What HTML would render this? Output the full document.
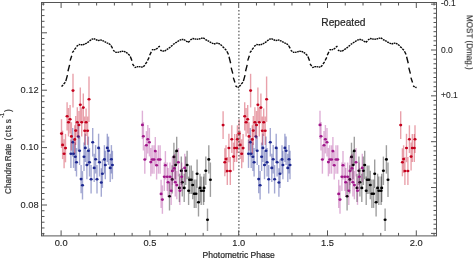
<!DOCTYPE html>
<html><head><meta charset="utf-8"><style>html,body{margin:0;padding:0;background:#fff;}svg{display:block;} text{will-change:transform;}</style></head>
<body><svg width="473" height="258" viewBox="0 0 473 258">
<rect width="473" height="258" fill="#fff"/>
<path d="M61.50,86.60 L63.15,85.13 M63.65,84.15 L65.30,82.31 M65.80,81.08 L67.45,75.15 M67.95,71.20 L69.60,64.85 M70.10,60.62 L71.75,55.83 M72.25,52.63 L73.90,50.82 M74.40,49.62 L76.05,47.64 M76.55,46.33 L78.20,45.23 M78.70,44.50 L80.35,44.61 M80.85,44.68 L82.50,44.72 M83.00,44.75 L84.65,44.17 M85.15,43.79 L86.80,43.07 M87.30,42.60 L88.95,41.60 M89.45,40.93 L91.10,39.93 M91.60,39.26 L93.25,38.82 M93.75,38.53 L95.40,39.28 M95.90,39.78 L97.55,40.28 M98.05,40.61 L99.70,40.20 M100.20,39.93 L101.85,40.28 M102.35,40.52 L104.00,41.22 M104.50,41.68 L106.15,42.40 M106.65,42.88 L108.30,43.37 M108.80,43.70 L110.45,44.78 M110.95,45.49 L112.60,48.37 M113.10,50.29 L114.75,51.50 M115.25,52.30 L116.90,52.37 M117.40,52.42 L119.05,52.07 M119.55,51.84 L121.20,51.50 M121.70,51.28 L123.35,51.37 M123.85,51.43 L125.50,52.02 M126.00,52.41 L127.65,53.30 M128.15,53.89 L129.80,55.46 M130.30,56.50 L131.95,60.87 M132.45,63.79 L134.10,66.14 M134.60,67.71 L136.25,67.13 M136.75,66.74 L138.40,66.64 M138.90,66.57 L140.55,66.93 M141.05,67.17 L142.70,66.97 M143.20,66.83 L144.85,65.16 M145.35,64.04 L147.00,61.93 M147.50,60.52 L149.15,57.36 M149.65,55.26 L151.30,51.89 M151.80,49.65 L153.45,49.77 M153.95,49.86 L155.60,49.44 M156.10,49.16 L157.75,47.97 M158.25,47.17 L159.90,46.08 M160.20,50.10 L161.85,50.73 M162.35,51.14 L164.00,51.06 M164.50,51.01 L166.15,50.12 M166.65,49.53 L168.30,48.64 M168.80,48.04 L170.45,47.06 M170.95,46.41 L172.60,45.24 M173.10,44.46 L174.75,43.51 M175.25,42.87 L176.90,42.08 M177.40,41.55 L179.05,40.73 M179.55,40.18 L181.20,39.77 M181.70,39.50 L183.35,39.52 M183.85,39.54 L185.50,40.51 M186.00,41.15 L187.65,41.89 M188.15,42.39 L189.80,40.90 M190.30,39.90 L191.95,39.06 M192.45,38.50 L194.10,38.77 M194.60,38.95 L196.25,39.10 M196.75,39.20 L198.40,39.10 M198.90,39.03 L200.55,38.60 M201.05,38.31 L202.70,38.09 M203.20,37.95 L204.85,38.90 M205.35,39.53 L207.00,40.24 M207.50,40.72 L209.15,41.48 M209.65,41.99 L211.30,42.67 M211.80,43.12 L213.45,43.64 M213.95,43.98 L215.60,43.46 M216.10,43.11 L217.75,43.26 M218.25,43.36 L219.90,44.01 M220.40,44.45 L222.05,45.75 M222.55,46.61 L224.20,47.93 M224.70,48.80 L226.35,50.25 M226.85,51.22 L228.50,54.56 M229.00,56.78 L230.65,63.25 M231.15,67.56 L232.80,73.59 M233.30,77.60 L234.95,82.54 M235.45,85.84 L237.10,86.77 M237.60,87.39 L239.00,87.52 M239.10,86.60 L240.75,85.13 M241.25,84.15 L242.90,82.31 M243.40,81.08 L245.05,75.15 M245.55,71.20 L247.20,64.85 M247.70,60.62 L249.35,55.83 M249.85,52.63 L251.50,50.82 M252.00,49.62 L253.65,47.64 M254.15,46.33 L255.80,45.23 M256.30,44.50 L257.95,44.61 M258.45,44.68 L260.10,44.72 M260.60,44.75 L262.25,44.17 M262.75,43.79 L264.40,43.07 M264.90,42.60 L266.55,41.60 M267.05,40.93 L268.70,39.93 M269.20,39.26 L270.85,38.82 M271.35,38.53 L273.00,39.28 M273.50,39.78 L275.15,40.28 M275.65,40.61 L277.30,40.20 M277.80,39.93 L279.45,40.28 M279.95,40.52 L281.60,41.22 M282.10,41.68 L283.75,42.40 M284.25,42.88 L285.90,43.37 M286.40,43.70 L288.05,44.78 M288.55,45.49 L290.20,48.37 M290.70,50.29 L292.35,51.50 M292.85,52.30 L294.50,52.37 M295.00,52.42 L296.65,52.07 M297.15,51.84 L298.80,51.50 M299.30,51.28 L300.95,51.37 M301.45,51.43 L303.10,52.02 M303.60,52.41 L305.25,53.30 M305.75,53.89 L307.40,55.46 M307.90,56.50 L309.55,60.87 M310.05,63.79 L311.70,66.14 M312.20,67.71 L313.85,67.13 M314.35,66.74 L316.00,66.64 M316.50,66.57 L318.15,66.93 M318.65,67.17 L320.30,66.97 M320.80,66.83 L322.45,65.16 M322.95,64.04 L324.60,61.93 M325.10,60.52 L326.75,57.36 M327.25,55.26 L328.90,51.89 M329.40,49.65 L331.05,49.77 M331.55,49.86 L333.20,49.44 M333.70,49.16 L335.35,47.97 M335.85,47.17 L337.50,46.08 M337.80,50.10 L339.45,50.73 M339.95,51.14 L341.60,51.06 M342.10,51.01 L343.75,50.12 M344.25,49.53 L345.90,48.64 M346.40,48.04 L348.05,47.06 M348.55,46.41 L350.20,45.24 M350.70,44.46 L352.35,43.51 M352.85,42.87 L354.50,42.08 M355.00,41.55 L356.65,40.73 M357.15,40.18 L358.80,39.77 M359.30,39.50 L360.95,39.52 M361.45,39.54 L363.10,40.51 M363.60,41.15 L365.25,41.89 M365.75,42.39 L367.40,40.90 M367.90,39.90 L369.55,39.06 M370.05,38.50 L371.70,38.77 M372.20,38.95 L373.85,39.10 M374.35,39.20 L376.00,39.10 M376.50,39.03 L378.15,38.60 M378.65,38.31 L380.30,38.09 M380.80,37.95 L382.45,38.90 M382.95,39.53 L384.60,40.24 M385.10,40.72 L386.75,41.48 M387.25,41.99 L388.90,42.67 M389.40,43.12 L391.05,43.64 M391.55,43.98 L393.20,43.46 M393.70,43.11 L395.35,43.26 M395.85,43.36 L397.50,44.01 M398.00,44.45 L399.65,45.75 M400.15,46.61 L401.80,47.93 M402.30,48.80 L403.95,50.25 M404.45,51.22 L406.10,54.56 M406.60,56.78 L408.25,63.25 M408.75,67.56 L410.40,73.59 M410.90,77.60 L412.55,82.54 M413.05,85.84 L414.70,86.77 M415.20,87.39 L416.60,87.52" fill="none" stroke="#0a0a0a" stroke-width="1.4" stroke-linecap="butt"/>
<g stroke="rgba(28,39,144,0.4)" stroke-width="1.4" fill="none"><path d="M70.90,139.50V167.90"/><path d="M72.70,128.10V156.50"/><path d="M73.60,139.50V167.90"/><path d="M75.30,142.50V170.90"/><path d="M76.50,148.10V176.50"/><path d="M78.30,122.30V150.70"/><path d="M79.60,136.60V165.00"/><path d="M81.10,164.90V193.30"/><path d="M82.50,171.10V199.50"/><path d="M84.00,142.60V171.00"/><path d="M85.30,133.70V162.10"/><path d="M86.90,150.80V179.20"/><path d="M88.40,136.60V165.00"/><path d="M89.50,148.10V176.50"/><path d="M91.10,165.10V193.50"/><path d="M92.70,128.10V156.50"/><path d="M94.20,153.70V182.10"/><path d="M95.60,145.10V173.50"/><path d="M97.00,165.10V193.50"/><path d="M98.60,133.70V162.10"/><path d="M99.50,148.10V176.50"/><path d="M101.30,168.30V196.70"/><path d="M102.40,159.50V187.90"/><path d="M104.40,145.20V173.60"/><path d="M105.30,150.80V179.20"/><path d="M107.30,133.70V162.10"/><path d="M108.50,136.60V165.00"/><path d="M110.20,153.70V182.10"/><path d="M111.40,145.10V173.50"/><path d="M112.40,150.80V179.20"/><path d="M248.50,139.50V167.90"/><path d="M250.30,128.10V156.50"/><path d="M251.20,139.50V167.90"/><path d="M252.90,142.50V170.90"/><path d="M254.10,148.10V176.50"/><path d="M255.90,122.30V150.70"/><path d="M257.20,136.60V165.00"/><path d="M258.70,164.90V193.30"/><path d="M260.10,171.10V199.50"/><path d="M261.60,142.60V171.00"/><path d="M262.90,133.70V162.10"/><path d="M264.50,150.80V179.20"/><path d="M266.00,136.60V165.00"/><path d="M267.10,148.10V176.50"/><path d="M268.70,165.10V193.50"/><path d="M270.30,128.10V156.50"/><path d="M271.80,153.70V182.10"/><path d="M273.20,145.10V173.50"/><path d="M274.60,165.10V193.50"/><path d="M276.20,133.70V162.10"/><path d="M277.10,148.10V176.50"/><path d="M278.90,168.30V196.70"/><path d="M280.00,159.50V187.90"/><path d="M282.00,145.20V173.60"/><path d="M282.90,150.80V179.20"/><path d="M284.90,133.70V162.10"/><path d="M286.10,136.60V165.00"/><path d="M287.80,153.70V182.10"/><path d="M289.00,145.10V173.50"/><path d="M290.00,150.80V179.20"/></g>
<g fill="#1c2790"><ellipse cx="70.90" cy="153.70" rx="1.55" ry="1.3"/><ellipse cx="72.70" cy="142.30" rx="1.55" ry="1.3"/><ellipse cx="73.60" cy="153.70" rx="1.55" ry="1.3"/><ellipse cx="75.30" cy="156.70" rx="1.55" ry="1.3"/><ellipse cx="76.50" cy="162.30" rx="1.55" ry="1.3"/><ellipse cx="78.30" cy="136.50" rx="1.55" ry="1.3"/><ellipse cx="79.60" cy="150.80" rx="1.55" ry="1.3"/><ellipse cx="81.10" cy="179.10" rx="1.55" ry="1.3"/><ellipse cx="82.50" cy="185.30" rx="1.55" ry="1.3"/><ellipse cx="84.00" cy="156.80" rx="1.55" ry="1.3"/><ellipse cx="85.30" cy="147.90" rx="1.55" ry="1.3"/><ellipse cx="86.90" cy="165.00" rx="1.55" ry="1.3"/><ellipse cx="88.40" cy="150.80" rx="1.55" ry="1.3"/><ellipse cx="89.50" cy="162.30" rx="1.55" ry="1.3"/><ellipse cx="91.10" cy="179.30" rx="1.55" ry="1.3"/><ellipse cx="92.70" cy="142.30" rx="1.55" ry="1.3"/><ellipse cx="94.20" cy="167.90" rx="1.55" ry="1.3"/><ellipse cx="95.60" cy="159.30" rx="1.55" ry="1.3"/><ellipse cx="97.00" cy="179.30" rx="1.55" ry="1.3"/><ellipse cx="98.60" cy="147.90" rx="1.55" ry="1.3"/><ellipse cx="99.50" cy="162.30" rx="1.55" ry="1.3"/><ellipse cx="101.30" cy="182.50" rx="1.55" ry="1.3"/><ellipse cx="102.40" cy="173.70" rx="1.55" ry="1.3"/><ellipse cx="104.40" cy="159.40" rx="1.55" ry="1.3"/><ellipse cx="105.30" cy="165.00" rx="1.55" ry="1.3"/><ellipse cx="107.30" cy="147.90" rx="1.55" ry="1.3"/><ellipse cx="108.50" cy="150.80" rx="1.55" ry="1.3"/><ellipse cx="110.20" cy="167.90" rx="1.55" ry="1.3"/><ellipse cx="111.40" cy="159.30" rx="1.55" ry="1.3"/><ellipse cx="112.40" cy="165.00" rx="1.55" ry="1.3"/><ellipse cx="248.50" cy="153.70" rx="1.55" ry="1.3"/><ellipse cx="250.30" cy="142.30" rx="1.55" ry="1.3"/><ellipse cx="251.20" cy="153.70" rx="1.55" ry="1.3"/><ellipse cx="252.90" cy="156.70" rx="1.55" ry="1.3"/><ellipse cx="254.10" cy="162.30" rx="1.55" ry="1.3"/><ellipse cx="255.90" cy="136.50" rx="1.55" ry="1.3"/><ellipse cx="257.20" cy="150.80" rx="1.55" ry="1.3"/><ellipse cx="258.70" cy="179.10" rx="1.55" ry="1.3"/><ellipse cx="260.10" cy="185.30" rx="1.55" ry="1.3"/><ellipse cx="261.60" cy="156.80" rx="1.55" ry="1.3"/><ellipse cx="262.90" cy="147.90" rx="1.55" ry="1.3"/><ellipse cx="264.50" cy="165.00" rx="1.55" ry="1.3"/><ellipse cx="266.00" cy="150.80" rx="1.55" ry="1.3"/><ellipse cx="267.10" cy="162.30" rx="1.55" ry="1.3"/><ellipse cx="268.70" cy="179.30" rx="1.55" ry="1.3"/><ellipse cx="270.30" cy="142.30" rx="1.55" ry="1.3"/><ellipse cx="271.80" cy="167.90" rx="1.55" ry="1.3"/><ellipse cx="273.20" cy="159.30" rx="1.55" ry="1.3"/><ellipse cx="274.60" cy="179.30" rx="1.55" ry="1.3"/><ellipse cx="276.20" cy="147.90" rx="1.55" ry="1.3"/><ellipse cx="277.10" cy="162.30" rx="1.55" ry="1.3"/><ellipse cx="278.90" cy="182.50" rx="1.55" ry="1.3"/><ellipse cx="280.00" cy="173.70" rx="1.55" ry="1.3"/><ellipse cx="282.00" cy="159.40" rx="1.55" ry="1.3"/><ellipse cx="282.90" cy="165.00" rx="1.55" ry="1.3"/><ellipse cx="284.90" cy="147.90" rx="1.55" ry="1.3"/><ellipse cx="286.10" cy="150.80" rx="1.55" ry="1.3"/><ellipse cx="287.80" cy="167.90" rx="1.55" ry="1.3"/><ellipse cx="289.00" cy="159.30" rx="1.55" ry="1.3"/><ellipse cx="290.00" cy="165.00" rx="1.55" ry="1.3"/></g>
<g stroke="rgba(0,0,0,0.38)" stroke-width="1.4" fill="none"><path d="M169.50,182.10V210.50"/><path d="M172.20,165.20V193.60"/><path d="M173.90,142.70V171.10"/><path d="M175.50,150.80V179.20"/><path d="M176.70,136.70V165.10"/><path d="M179.40,173.70V202.10"/><path d="M181.30,156.60V185.00"/><path d="M182.30,168.10V196.50"/><path d="M184.20,173.70V202.10"/><path d="M185.70,156.60V185.00"/><path d="M187.10,150.80V179.20"/><path d="M188.60,176.60V205.00"/><path d="M189.60,165.50V193.90"/><path d="M191.30,165.50V193.90"/><path d="M192.70,170.80V199.20"/><path d="M194.30,179.50V207.90"/><path d="M196.00,179.50V207.90"/><path d="M197.10,159.50V187.90"/><path d="M198.50,188.10V216.50"/><path d="M200.00,173.70V202.10"/><path d="M201.20,176.60V205.00"/><path d="M203.50,176.60V205.00"/><path d="M204.10,173.70V202.10"/><path d="M205.80,156.60V185.00"/><path d="M207.50,208.60V231.00"/><path d="M208.80,145.20V173.60"/><path d="M210.40,162.50V196.90"/><path d="M347.10,182.10V210.50"/><path d="M349.80,165.20V193.60"/><path d="M351.50,142.70V171.10"/><path d="M353.10,150.80V179.20"/><path d="M354.30,136.70V165.10"/><path d="M357.00,173.70V202.10"/><path d="M358.90,156.60V185.00"/><path d="M359.90,168.10V196.50"/><path d="M361.80,173.70V202.10"/><path d="M363.30,156.60V185.00"/><path d="M364.70,150.80V179.20"/><path d="M366.20,176.60V205.00"/><path d="M367.20,165.50V193.90"/><path d="M368.90,165.50V193.90"/><path d="M370.30,170.80V199.20"/><path d="M371.90,179.50V207.90"/><path d="M373.60,179.50V207.90"/><path d="M374.70,159.50V187.90"/><path d="M376.10,188.10V216.50"/><path d="M377.60,173.70V202.10"/><path d="M378.80,176.60V205.00"/><path d="M381.10,176.60V205.00"/><path d="M381.70,173.70V202.10"/><path d="M383.40,156.60V185.00"/><path d="M385.10,208.60V231.00"/><path d="M386.40,145.20V173.60"/><path d="M388.00,162.50V196.90"/></g>
<g fill="#000"><ellipse cx="169.50" cy="196.30" rx="1.55" ry="1.3"/><ellipse cx="172.20" cy="179.40" rx="1.55" ry="1.3"/><ellipse cx="173.90" cy="156.90" rx="1.55" ry="1.3"/><ellipse cx="175.50" cy="165.00" rx="1.55" ry="1.3"/><ellipse cx="176.70" cy="150.90" rx="1.55" ry="1.3"/><ellipse cx="179.40" cy="187.90" rx="1.55" ry="1.3"/><ellipse cx="181.30" cy="170.80" rx="1.55" ry="1.3"/><ellipse cx="182.30" cy="182.30" rx="1.55" ry="1.3"/><ellipse cx="184.20" cy="187.90" rx="1.55" ry="1.3"/><ellipse cx="185.70" cy="170.80" rx="1.55" ry="1.3"/><ellipse cx="187.10" cy="165.00" rx="1.55" ry="1.3"/><ellipse cx="188.60" cy="190.80" rx="1.55" ry="1.3"/><ellipse cx="189.60" cy="179.70" rx="1.55" ry="1.3"/><ellipse cx="191.30" cy="179.70" rx="1.55" ry="1.3"/><ellipse cx="192.70" cy="185.00" rx="1.55" ry="1.3"/><ellipse cx="194.30" cy="193.70" rx="1.55" ry="1.3"/><ellipse cx="196.00" cy="193.70" rx="1.55" ry="1.3"/><ellipse cx="197.10" cy="173.70" rx="1.55" ry="1.3"/><ellipse cx="198.50" cy="202.30" rx="1.55" ry="1.3"/><ellipse cx="200.00" cy="187.90" rx="1.55" ry="1.3"/><ellipse cx="201.20" cy="190.80" rx="1.55" ry="1.3"/><ellipse cx="203.50" cy="190.80" rx="1.55" ry="1.3"/><ellipse cx="204.10" cy="187.90" rx="1.55" ry="1.3"/><ellipse cx="205.80" cy="170.80" rx="1.55" ry="1.3"/><ellipse cx="207.50" cy="219.80" rx="1.55" ry="1.3"/><ellipse cx="208.80" cy="159.40" rx="1.55" ry="1.3"/><ellipse cx="210.40" cy="179.70" rx="1.55" ry="1.3"/><ellipse cx="347.10" cy="196.30" rx="1.55" ry="1.3"/><ellipse cx="349.80" cy="179.40" rx="1.55" ry="1.3"/><ellipse cx="351.50" cy="156.90" rx="1.55" ry="1.3"/><ellipse cx="353.10" cy="165.00" rx="1.55" ry="1.3"/><ellipse cx="354.30" cy="150.90" rx="1.55" ry="1.3"/><ellipse cx="357.00" cy="187.90" rx="1.55" ry="1.3"/><ellipse cx="358.90" cy="170.80" rx="1.55" ry="1.3"/><ellipse cx="359.90" cy="182.30" rx="1.55" ry="1.3"/><ellipse cx="361.80" cy="187.90" rx="1.55" ry="1.3"/><ellipse cx="363.30" cy="170.80" rx="1.55" ry="1.3"/><ellipse cx="364.70" cy="165.00" rx="1.55" ry="1.3"/><ellipse cx="366.20" cy="190.80" rx="1.55" ry="1.3"/><ellipse cx="367.20" cy="179.70" rx="1.55" ry="1.3"/><ellipse cx="368.90" cy="179.70" rx="1.55" ry="1.3"/><ellipse cx="370.30" cy="185.00" rx="1.55" ry="1.3"/><ellipse cx="371.90" cy="193.70" rx="1.55" ry="1.3"/><ellipse cx="373.60" cy="193.70" rx="1.55" ry="1.3"/><ellipse cx="374.70" cy="173.70" rx="1.55" ry="1.3"/><ellipse cx="376.10" cy="202.30" rx="1.55" ry="1.3"/><ellipse cx="377.60" cy="187.90" rx="1.55" ry="1.3"/><ellipse cx="378.80" cy="190.80" rx="1.55" ry="1.3"/><ellipse cx="381.10" cy="190.80" rx="1.55" ry="1.3"/><ellipse cx="381.70" cy="187.90" rx="1.55" ry="1.3"/><ellipse cx="383.40" cy="170.80" rx="1.55" ry="1.3"/><ellipse cx="385.10" cy="219.80" rx="1.55" ry="1.3"/><ellipse cx="386.40" cy="159.40" rx="1.55" ry="1.3"/><ellipse cx="388.00" cy="179.70" rx="1.55" ry="1.3"/></g>
<g stroke="rgba(160,22,138,0.34)" stroke-width="1.4" fill="none"><path d="M142.40,110.70V139.10"/><path d="M143.40,122.10V150.50"/><path d="M144.80,145.30V173.70"/><path d="M146.40,131.10V159.50"/><path d="M147.80,125.00V153.40"/><path d="M149.40,128.00V156.40"/><path d="M150.80,147.90V176.30"/><path d="M152.20,145.30V173.70"/><path d="M154.00,145.30V173.70"/><path d="M155.30,136.90V165.30"/><path d="M156.60,151.10V179.50"/><path d="M158.40,145.30V173.70"/><path d="M160.10,145.30V173.70"/><path d="M161.10,179.70V208.10"/><path d="M162.40,185.40V213.80"/><path d="M164.30,162.50V190.90"/><path d="M165.40,151.10V179.50"/><path d="M167.20,162.50V190.90"/><path d="M168.10,168.00V196.40"/><path d="M170.00,162.50V190.90"/><path d="M171.20,176.50V204.90"/><path d="M172.40,156.70V185.10"/><path d="M174.40,154.00V182.40"/><path d="M175.30,168.00V196.40"/><path d="M176.80,170.90V199.30"/><path d="M178.40,148.00V176.40"/><path d="M179.90,176.50V204.90"/><path d="M181.70,162.50V190.90"/><path d="M184.70,153.70V182.10"/><path d="M320.00,110.70V139.10"/><path d="M321.00,122.10V150.50"/><path d="M322.40,145.30V173.70"/><path d="M324.00,131.10V159.50"/><path d="M325.40,125.00V153.40"/><path d="M327.00,128.00V156.40"/><path d="M328.40,147.90V176.30"/><path d="M329.80,145.30V173.70"/><path d="M331.60,145.30V173.70"/><path d="M332.90,136.90V165.30"/><path d="M334.20,151.10V179.50"/><path d="M336.00,145.30V173.70"/><path d="M337.70,145.30V173.70"/><path d="M338.70,179.70V208.10"/><path d="M340.00,185.40V213.80"/><path d="M341.90,162.50V190.90"/><path d="M343.00,151.10V179.50"/><path d="M344.80,162.50V190.90"/><path d="M345.70,168.00V196.40"/><path d="M347.60,162.50V190.90"/><path d="M348.80,176.50V204.90"/><path d="M350.00,156.70V185.10"/><path d="M352.00,154.00V182.40"/><path d="M352.90,168.00V196.40"/><path d="M354.40,170.90V199.30"/><path d="M356.00,148.00V176.40"/><path d="M357.50,176.50V204.90"/><path d="M359.30,162.50V190.90"/><path d="M362.30,153.70V182.10"/></g>
<g fill="#a0168a"><ellipse cx="142.40" cy="124.90" rx="1.55" ry="1.3"/><ellipse cx="143.40" cy="136.30" rx="1.55" ry="1.3"/><ellipse cx="144.80" cy="159.50" rx="1.55" ry="1.3"/><ellipse cx="146.40" cy="145.30" rx="1.55" ry="1.3"/><ellipse cx="147.80" cy="139.20" rx="1.55" ry="1.3"/><ellipse cx="149.40" cy="142.20" rx="1.55" ry="1.3"/><ellipse cx="150.80" cy="162.10" rx="1.55" ry="1.3"/><ellipse cx="152.20" cy="159.50" rx="1.55" ry="1.3"/><ellipse cx="154.00" cy="159.50" rx="1.55" ry="1.3"/><ellipse cx="155.30" cy="151.10" rx="1.55" ry="1.3"/><ellipse cx="156.60" cy="165.30" rx="1.55" ry="1.3"/><ellipse cx="158.40" cy="159.50" rx="1.55" ry="1.3"/><ellipse cx="160.10" cy="159.50" rx="1.55" ry="1.3"/><ellipse cx="161.10" cy="193.90" rx="1.55" ry="1.3"/><ellipse cx="162.40" cy="199.60" rx="1.55" ry="1.3"/><ellipse cx="164.30" cy="176.70" rx="1.55" ry="1.3"/><ellipse cx="165.40" cy="165.30" rx="1.55" ry="1.3"/><ellipse cx="167.20" cy="176.70" rx="1.55" ry="1.3"/><ellipse cx="168.10" cy="182.20" rx="1.55" ry="1.3"/><ellipse cx="170.00" cy="176.70" rx="1.55" ry="1.3"/><ellipse cx="171.20" cy="190.70" rx="1.55" ry="1.3"/><ellipse cx="172.40" cy="170.90" rx="1.55" ry="1.3"/><ellipse cx="174.40" cy="168.20" rx="1.55" ry="1.3"/><ellipse cx="175.30" cy="182.20" rx="1.55" ry="1.3"/><ellipse cx="176.80" cy="185.10" rx="1.55" ry="1.3"/><ellipse cx="178.40" cy="162.20" rx="1.55" ry="1.3"/><ellipse cx="179.90" cy="190.70" rx="1.55" ry="1.3"/><ellipse cx="181.70" cy="176.70" rx="1.55" ry="1.3"/><ellipse cx="184.70" cy="167.90" rx="1.55" ry="1.3"/><ellipse cx="320.00" cy="124.90" rx="1.55" ry="1.3"/><ellipse cx="321.00" cy="136.30" rx="1.55" ry="1.3"/><ellipse cx="322.40" cy="159.50" rx="1.55" ry="1.3"/><ellipse cx="324.00" cy="145.30" rx="1.55" ry="1.3"/><ellipse cx="325.40" cy="139.20" rx="1.55" ry="1.3"/><ellipse cx="327.00" cy="142.20" rx="1.55" ry="1.3"/><ellipse cx="328.40" cy="162.10" rx="1.55" ry="1.3"/><ellipse cx="329.80" cy="159.50" rx="1.55" ry="1.3"/><ellipse cx="331.60" cy="159.50" rx="1.55" ry="1.3"/><ellipse cx="332.90" cy="151.10" rx="1.55" ry="1.3"/><ellipse cx="334.20" cy="165.30" rx="1.55" ry="1.3"/><ellipse cx="336.00" cy="159.50" rx="1.55" ry="1.3"/><ellipse cx="337.70" cy="159.50" rx="1.55" ry="1.3"/><ellipse cx="338.70" cy="193.90" rx="1.55" ry="1.3"/><ellipse cx="340.00" cy="199.60" rx="1.55" ry="1.3"/><ellipse cx="341.90" cy="176.70" rx="1.55" ry="1.3"/><ellipse cx="343.00" cy="165.30" rx="1.55" ry="1.3"/><ellipse cx="344.80" cy="176.70" rx="1.55" ry="1.3"/><ellipse cx="345.70" cy="182.20" rx="1.55" ry="1.3"/><ellipse cx="347.60" cy="176.70" rx="1.55" ry="1.3"/><ellipse cx="348.80" cy="190.70" rx="1.55" ry="1.3"/><ellipse cx="350.00" cy="170.90" rx="1.55" ry="1.3"/><ellipse cx="352.00" cy="168.20" rx="1.55" ry="1.3"/><ellipse cx="352.90" cy="182.20" rx="1.55" ry="1.3"/><ellipse cx="354.40" cy="185.10" rx="1.55" ry="1.3"/><ellipse cx="356.00" cy="162.20" rx="1.55" ry="1.3"/><ellipse cx="357.50" cy="190.70" rx="1.55" ry="1.3"/><ellipse cx="359.30" cy="176.70" rx="1.55" ry="1.3"/><ellipse cx="362.30" cy="167.90" rx="1.55" ry="1.3"/></g>
<g stroke="rgba(196,0,28,0.37)" stroke-width="1.4" fill="none"><path d="M61.50,119.20V148.00"/><path d="M62.60,130.70V159.10"/><path d="M64.10,139.20V168.20"/><path d="M65.50,133.90V162.30"/><path d="M67.10,102.20V130.40"/><path d="M68.50,108.00V136.40"/><path d="M70.10,105.10V133.50"/><path d="M71.40,122.20V150.60"/><path d="M73.00,73.80V107.40"/><path d="M74.70,125.20V153.60"/><path d="M75.70,116.10V145.10"/><path d="M77.30,107.30V137.10"/><path d="M78.90,111.00V139.00"/><path d="M80.30,87.40V122.20"/><path d="M81.70,108.00V136.40"/><path d="M83.30,93.40V121.80"/><path d="M84.70,116.50V144.90"/><path d="M86.10,108.40V136.00"/><path d="M87.60,116.50V144.90"/><path d="M89.00,76.50V121.90"/><path d="M223.10,111.20V139.00"/><path d="M224.80,148.30V176.30"/><path d="M226.00,145.30V172.90"/><path d="M227.30,157.00V185.00"/><path d="M228.90,133.80V162.20"/><path d="M230.30,157.00V185.00"/><path d="M231.80,125.30V153.10"/><path d="M233.50,142.60V170.60"/><path d="M234.70,134.00V162.00"/><path d="M236.70,134.00V162.00"/><path d="M237.40,125.30V153.10"/><path d="M239.10,119.20V148.00"/><path d="M240.20,130.70V159.10"/><path d="M241.70,139.20V168.20"/><path d="M243.10,133.90V162.30"/><path d="M244.70,102.20V130.40"/><path d="M246.10,108.00V136.40"/><path d="M247.70,105.10V133.50"/><path d="M249.00,122.20V150.60"/><path d="M250.60,73.80V107.40"/><path d="M252.30,125.20V153.60"/><path d="M253.30,116.10V145.10"/><path d="M254.90,107.30V137.10"/><path d="M256.50,111.00V139.00"/><path d="M257.90,87.40V122.20"/><path d="M259.30,108.00V136.40"/><path d="M260.90,93.40V121.80"/><path d="M262.30,116.50V144.90"/><path d="M263.70,108.40V136.00"/><path d="M265.20,116.50V144.90"/><path d="M266.60,76.50V121.90"/><path d="M400.70,111.20V139.00"/><path d="M402.40,148.30V176.30"/><path d="M403.60,145.30V172.90"/><path d="M404.90,157.00V185.00"/><path d="M406.50,133.80V162.20"/><path d="M407.90,157.00V185.00"/><path d="M409.40,125.30V153.10"/><path d="M411.10,142.60V170.60"/><path d="M412.30,134.00V162.00"/><path d="M414.30,134.00V162.00"/><path d="M415.00,125.30V153.10"/></g>
<g fill="#c4001c"><ellipse cx="61.50" cy="133.60" rx="1.55" ry="1.3"/><ellipse cx="62.60" cy="144.90" rx="1.55" ry="1.3"/><ellipse cx="64.10" cy="153.70" rx="1.55" ry="1.3"/><ellipse cx="65.50" cy="148.10" rx="1.55" ry="1.3"/><ellipse cx="67.10" cy="116.30" rx="1.55" ry="1.3"/><ellipse cx="68.50" cy="122.20" rx="1.55" ry="1.3"/><ellipse cx="70.10" cy="119.30" rx="1.55" ry="1.3"/><ellipse cx="71.40" cy="136.40" rx="1.55" ry="1.3"/><ellipse cx="73.00" cy="90.60" rx="1.55" ry="1.3"/><ellipse cx="74.70" cy="139.40" rx="1.55" ry="1.3"/><ellipse cx="75.70" cy="130.60" rx="1.55" ry="1.3"/><ellipse cx="77.30" cy="122.20" rx="1.55" ry="1.3"/><ellipse cx="78.90" cy="125.00" rx="1.55" ry="1.3"/><ellipse cx="80.30" cy="104.80" rx="1.55" ry="1.3"/><ellipse cx="81.70" cy="122.20" rx="1.55" ry="1.3"/><ellipse cx="83.30" cy="107.60" rx="1.55" ry="1.3"/><ellipse cx="84.70" cy="130.70" rx="1.55" ry="1.3"/><ellipse cx="86.10" cy="122.20" rx="1.55" ry="1.3"/><ellipse cx="87.60" cy="130.70" rx="1.55" ry="1.3"/><ellipse cx="89.00" cy="99.20" rx="1.55" ry="1.3"/><ellipse cx="223.10" cy="125.10" rx="1.55" ry="1.3"/><ellipse cx="224.80" cy="162.30" rx="1.55" ry="1.3"/><ellipse cx="226.00" cy="159.10" rx="1.55" ry="1.3"/><ellipse cx="227.30" cy="171.00" rx="1.55" ry="1.3"/><ellipse cx="228.90" cy="148.00" rx="1.55" ry="1.3"/><ellipse cx="230.30" cy="171.00" rx="1.55" ry="1.3"/><ellipse cx="231.80" cy="139.20" rx="1.55" ry="1.3"/><ellipse cx="233.50" cy="156.60" rx="1.55" ry="1.3"/><ellipse cx="234.70" cy="148.00" rx="1.55" ry="1.3"/><ellipse cx="236.70" cy="148.00" rx="1.55" ry="1.3"/><ellipse cx="237.40" cy="139.20" rx="1.55" ry="1.3"/><ellipse cx="239.10" cy="133.60" rx="1.55" ry="1.3"/><ellipse cx="240.20" cy="144.90" rx="1.55" ry="1.3"/><ellipse cx="241.70" cy="153.70" rx="1.55" ry="1.3"/><ellipse cx="243.10" cy="148.10" rx="1.55" ry="1.3"/><ellipse cx="244.70" cy="116.30" rx="1.55" ry="1.3"/><ellipse cx="246.10" cy="122.20" rx="1.55" ry="1.3"/><ellipse cx="247.70" cy="119.30" rx="1.55" ry="1.3"/><ellipse cx="249.00" cy="136.40" rx="1.55" ry="1.3"/><ellipse cx="250.60" cy="90.60" rx="1.55" ry="1.3"/><ellipse cx="252.30" cy="139.40" rx="1.55" ry="1.3"/><ellipse cx="253.30" cy="130.60" rx="1.55" ry="1.3"/><ellipse cx="254.90" cy="122.20" rx="1.55" ry="1.3"/><ellipse cx="256.50" cy="125.00" rx="1.55" ry="1.3"/><ellipse cx="257.90" cy="104.80" rx="1.55" ry="1.3"/><ellipse cx="259.30" cy="122.20" rx="1.55" ry="1.3"/><ellipse cx="260.90" cy="107.60" rx="1.55" ry="1.3"/><ellipse cx="262.30" cy="130.70" rx="1.55" ry="1.3"/><ellipse cx="263.70" cy="122.20" rx="1.55" ry="1.3"/><ellipse cx="265.20" cy="130.70" rx="1.55" ry="1.3"/><ellipse cx="266.60" cy="99.20" rx="1.55" ry="1.3"/><ellipse cx="400.70" cy="125.10" rx="1.55" ry="1.3"/><ellipse cx="402.40" cy="162.30" rx="1.55" ry="1.3"/><ellipse cx="403.60" cy="159.10" rx="1.55" ry="1.3"/><ellipse cx="404.90" cy="171.00" rx="1.55" ry="1.3"/><ellipse cx="406.50" cy="148.00" rx="1.55" ry="1.3"/><ellipse cx="407.90" cy="171.00" rx="1.55" ry="1.3"/><ellipse cx="409.40" cy="139.20" rx="1.55" ry="1.3"/><ellipse cx="411.10" cy="156.60" rx="1.55" ry="1.3"/><ellipse cx="412.30" cy="148.00" rx="1.55" ry="1.3"/><ellipse cx="414.30" cy="148.00" rx="1.55" ry="1.3"/><ellipse cx="415.00" cy="139.20" rx="1.55" ry="1.3"/></g>
<line x1="238.9" y1="10" x2="238.9" y2="235" stroke="#555" stroke-width="1.2" stroke-dasharray="1.5 1.95"/>
<rect x="41.5" y="2.5" width="395.0" height="233.4" fill="none" stroke="#555" stroke-width="1"/>
<path d="M43.34,235.9v-3M43.34,2.5v3M61.10,235.9v-5.5M61.10,2.5v5.5M78.86,235.9v-3M78.86,2.5v3M96.62,235.9v-3M96.62,2.5v3M114.38,235.9v-3M114.38,2.5v3M132.14,235.9v-3M132.14,2.5v3M149.90,235.9v-5.5M149.90,2.5v5.5M167.66,235.9v-3M167.66,2.5v3M185.42,235.9v-3M185.42,2.5v3M203.18,235.9v-3M203.18,2.5v3M220.94,235.9v-3M220.94,2.5v3M238.70,235.9v-5.5M238.70,2.5v5.5M256.46,235.9v-3M256.46,2.5v3M274.22,235.9v-3M274.22,2.5v3M291.98,235.9v-3M291.98,2.5v3M309.74,235.9v-3M309.74,2.5v3M327.50,235.9v-5.5M327.50,2.5v5.5M345.26,235.9v-3M345.26,2.5v3M363.02,235.9v-3M363.02,2.5v3M380.78,235.9v-3M380.78,2.5v3M398.54,235.9v-3M398.54,2.5v3M416.30,235.9v-5.5M416.30,2.5v5.5M434.06,235.9v-3M434.06,2.5v3M41.5,233.70h3M41.5,227.96h3M41.5,222.22h3M41.5,216.48h3M41.5,210.74h3M41.5,205.00h5.5M41.5,199.26h3M41.5,193.52h3M41.5,187.78h3M41.5,182.04h3M41.5,176.30h3M41.5,170.56h3M41.5,164.82h3M41.5,159.08h3M41.5,153.34h3M41.5,147.60h5.5M41.5,141.86h3M41.5,136.12h3M41.5,130.38h3M41.5,124.64h3M41.5,118.90h3M41.5,113.16h3M41.5,107.42h3M41.5,101.68h3M41.5,95.94h3M41.5,90.20h5.5M41.5,84.46h3M41.5,78.72h3M41.5,72.98h3M41.5,67.24h3M41.5,61.50h3M41.5,55.76h3M41.5,50.02h3M41.5,44.28h3M41.5,38.54h3M41.5,32.80h5.5M41.5,27.06h3M41.5,21.32h3M41.5,15.58h3M41.5,9.84h3M41.5,4.10h3M436.5,4.15h-5.5M436.5,8.73h-3M436.5,13.32h-3M436.5,17.90h-3M436.5,22.49h-3M436.5,27.07h-3M436.5,31.66h-3M436.5,36.25h-3M436.5,40.83h-3M436.5,45.41h-3M436.5,50.00h-5.5M436.5,54.59h-3M436.5,59.17h-3M436.5,63.75h-3M436.5,68.34h-3M436.5,72.92h-3M436.5,77.51h-3M436.5,82.09h-3M436.5,86.68h-3M436.5,91.27h-3M436.5,95.85h-5.5M436.5,100.44h-3M436.5,105.02h-3M436.5,109.61h-3M436.5,114.19h-3M436.5,118.77h-3M436.5,123.36h-3M436.5,127.95h-3M436.5,132.53h-3M436.5,137.12h-3M436.5,141.70h-5.5M436.5,146.28h-3M436.5,150.87h-3M436.5,155.45h-3M436.5,160.04h-3M436.5,164.62h-3M436.5,169.21h-3M436.5,173.80h-3M436.5,178.38h-3M436.5,182.97h-3M436.5,187.55h-5.5M436.5,192.13h-3M436.5,196.72h-3M436.5,201.31h-3M436.5,205.89h-3M436.5,210.48h-3M436.5,215.06h-3M436.5,219.65h-3M436.5,224.23h-3M436.5,228.81h-3M436.5,233.40h-5.5" stroke="#555" stroke-width="1" fill="none"/>
<text x="38.60" y="92.70" font-size="9.86" textLength="18.10" lengthAdjust="spacingAndGlyphs" text-anchor="end" font-family="Liberation Sans, sans-serif" fill="#262626" stroke="#262626" stroke-width="0.1">0.12</text>
<text x="38.60" y="150.10" font-size="9.86" textLength="18.10" lengthAdjust="spacingAndGlyphs" text-anchor="end" font-family="Liberation Sans, sans-serif" fill="#262626" stroke="#262626" stroke-width="0.1">0.10</text>
<text x="38.60" y="207.50" font-size="9.86" textLength="18.10" lengthAdjust="spacingAndGlyphs" text-anchor="end" font-family="Liberation Sans, sans-serif" fill="#262626" stroke="#262626" stroke-width="0.1">0.08</text>
<text x="61.10" y="246.40" font-size="9.86" textLength="12.93" lengthAdjust="spacingAndGlyphs" text-anchor="middle" font-family="Liberation Sans, sans-serif" fill="#262626" stroke="#262626" stroke-width="0.15">0.0</text>
<text x="149.90" y="246.40" font-size="9.86" textLength="12.93" lengthAdjust="spacingAndGlyphs" text-anchor="middle" font-family="Liberation Sans, sans-serif" fill="#262626" stroke="#262626" stroke-width="0.15">0.5</text>
<text x="238.70" y="246.40" font-size="9.86" textLength="12.93" lengthAdjust="spacingAndGlyphs" text-anchor="middle" font-family="Liberation Sans, sans-serif" fill="#262626" stroke="#262626" stroke-width="0.15">1.0</text>
<text x="327.50" y="246.40" font-size="9.86" textLength="12.93" lengthAdjust="spacingAndGlyphs" text-anchor="middle" font-family="Liberation Sans, sans-serif" fill="#262626" stroke="#262626" stroke-width="0.15">1.5</text>
<text x="416.30" y="246.40" font-size="9.86" textLength="12.93" lengthAdjust="spacingAndGlyphs" text-anchor="middle" font-family="Liberation Sans, sans-serif" fill="#262626" stroke="#262626" stroke-width="0.15">2.0</text>
<text x="441.00" y="6.30" font-size="9.35" textLength="14.65" lengthAdjust="spacingAndGlyphs" text-anchor="start" font-family="Liberation Sans, sans-serif" fill="#262626" stroke="#262626" stroke-width="0.1">-0.1</text>
<text x="441.00" y="52.80" font-size="9.35" textLength="11.82" lengthAdjust="spacingAndGlyphs" text-anchor="start" font-family="Liberation Sans, sans-serif" fill="#262626" stroke="#262626" stroke-width="0.1">0.0</text>
<text x="441.00" y="98.40" font-size="9.35" textLength="16.78" lengthAdjust="spacingAndGlyphs" text-anchor="start" font-family="Liberation Sans, sans-serif" fill="#262626" stroke="#262626" stroke-width="0.1">+0.1</text>
<text x="321.30" y="25.80" font-size="11.22" textLength="44.24" lengthAdjust="spacingAndGlyphs" text-anchor="start" font-family="Liberation Sans, sans-serif" fill="#262626" stroke="#262626" stroke-width="0.22">Repeated</text>
<text x="202.60" y="258.10" font-size="9.41" textLength="72.24" lengthAdjust="spacingAndGlyphs" text-anchor="start" font-family="Liberation Sans, sans-serif" fill="#262626" stroke="#262626" stroke-width="0.22">Photometric Phase</text>
<g transform="translate(11.1,194.0) rotate(-90)" font-family="Liberation Sans, sans-serif" fill="#262626" stroke="#262626" stroke-width="0.2"><text x="-0.01" y="0.00" font-size="8.2">Chandra</text><text x="32.84" y="0.00" font-size="8.2">Rate</text><text x="53.54" y="0.00" font-size="8.2" textLength="15.15" lengthAdjust="spacing">(cts</text><text x="70.85" y="0.00" font-size="8.2">s</text><text x="76.25" y="-7.30" font-size="5.6">-</text><text x="77.98" y="-7.30" font-size="5.6">1</text><text x="82.06" y="0.00" font-size="8.2">)</text></g>
<text transform="translate(466.7,15) rotate(90)" font-size="8.7" textLength="54.76" lengthAdjust="spacingAndGlyphs" font-family="Liberation Sans, sans-serif" fill="#262626" stroke="#262626" stroke-width="0.12">MOST (Dmag.)</text>
</svg></body></html>
